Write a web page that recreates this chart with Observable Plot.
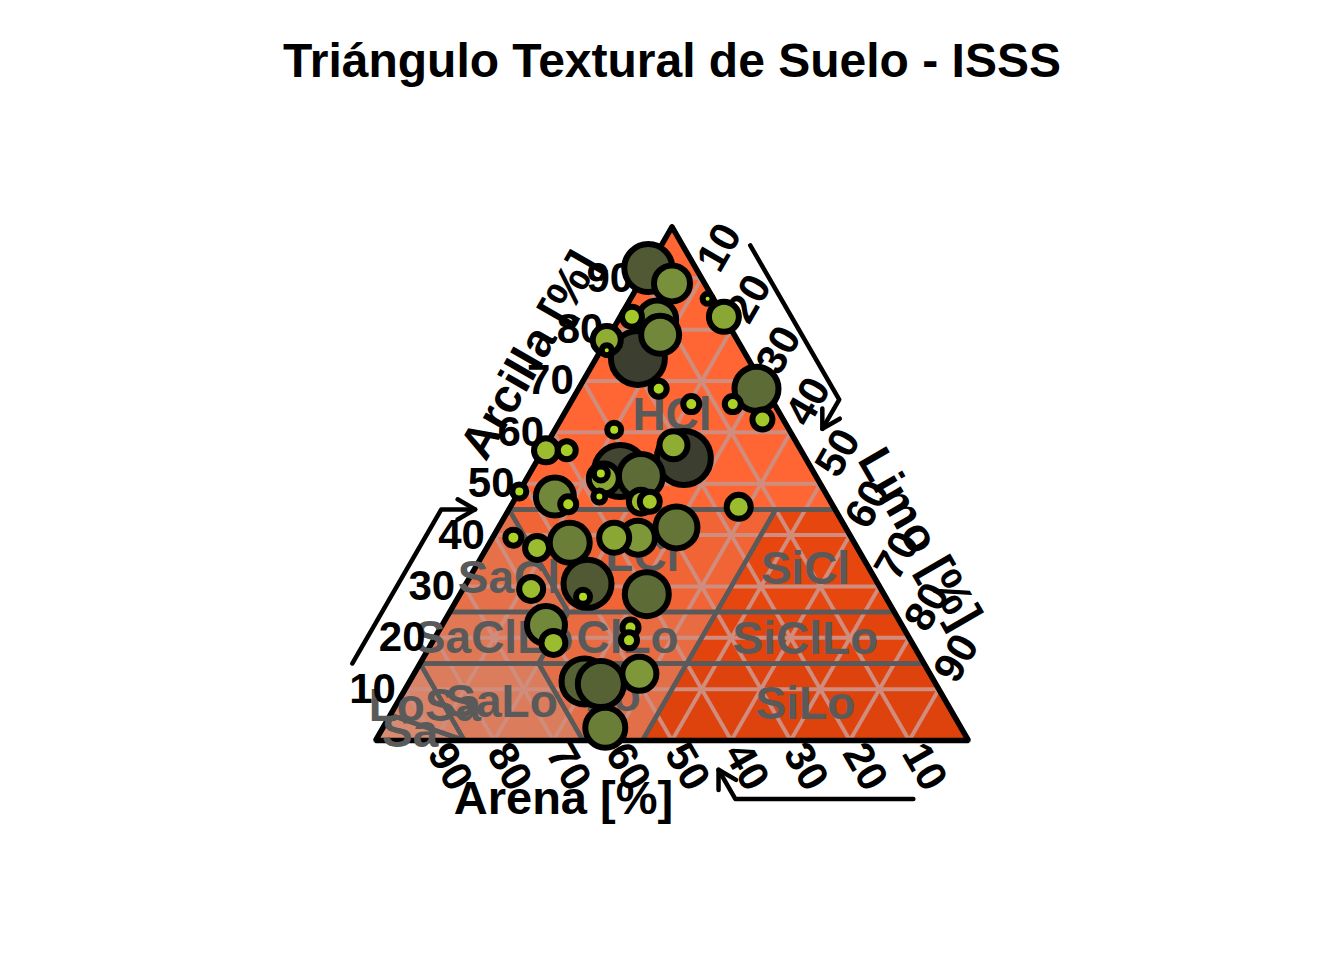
<!DOCTYPE html>
<html><head><meta charset="utf-8">
<script src="https://cdn.jsdelivr.net/npm/d3@7"></script>
<script src="https://cdn.jsdelivr.net/npm/@observablehq/plot@0.6"></script>
<style>
body{margin:0;background:#fff;font-family:"Liberation Sans",Arial,sans-serif;}
#title{height:73px;padding-top:37px;text-align:center;font-weight:bold;font-size:48px;line-height:1;color:#000;}
#chart{height:850px;}
</style></head><body>
<div id="title">Triángulo Textural de Suelo - ISSS</div>
<div id="chart"></div>
<script>
// ---- data: samples (percentages) and bubble variable ----
const arcilla = [92,89,86,82.5,82.5,82,79,78,76,74.5,68.5,65.5,65.5,68.5,62.5,55,57.5,60.5,56.5,56.5,48.5,47.5,46,52.5,51.5,51,52,47.5,46.5,46.5,45.5,39.5,37.5,38.5,39.5,39.5,41.5,29.5,30.5,28,28.5,22.5,19,22,19.5,13,11.5,11,2.5];
const limo    = [0,5.5,13,17.5,2,6.5,8.5,0,1,7,13.5,20.5,27.5,30,34,24.5,21.5,10,0.5,4,0,6.5,9.5,15,19,13,12,14,21.5,23,38.5,3.5,8.5,13.5,20.5,24.5,30,11.5,20.5,21,31.5,17.5,20.5,32,33,38,29.5,32.5,37.5];
const arena   = arcilla.map((a,i)=>+(100-a-limo[i]).toFixed(1));
const valor   = [5.25,3.75,0.5,3.0,1.75,4.0,4.0,2.75,0.5,6.0,1.25,1.25,1.25,4.75,1.75,6.0,2.75,1.0,2.25,1.5,1.0,4.0,1.25,5.75,4.75,3.0,1.0,0.75,2.25,1.75,2.25,1.25,2.25,4.25,3.0,3.5,4.5,2.25,5.25,1.0,4.75,4.0,2.25,1.25,1.25,3.5,5.0,5.0,4.25];

// ---- texture classes (ISSS): vertices as [arcilla, limo] ----
const clases = ["HCl","SiCl","LCl","SaCl","SiClLo","ClLo","SaClLo","SiLo","Lo","SaLo","LoSa","Sa"];
const poligonos = [
  [[100,0],[45,55],[45,0]],
  [[45,55],[25,75],[25,45],[45,45]],
  [[45,45],[25,45],[25,20],[45,0]],
  [[45,0],[25,20],[25,0]],
  [[25,75],[15,85],[15,45],[25,45]],
  [[25,45],[15,45],[15,20],[25,20]],
  [[25,20],[15,20],[15,0],[25,0]],
  [[15,85],[0,100],[0,45],[15,45]],
  [[15,45],[0,45],[0,35],[15,20]],
  [[15,20],[0,35],[0,15],[15,0]],
  [[15,0],[0,15],[5,0]],
  [[5,0],[0,15],[0,0]]
];
const marcas = [10,20,30,40,50,60,70,80,90];
const ejes = ["arcilla","limo","arena"];
const titulosEje = ["Arcilla [%]","Limo [%]","Arena [%]"];

// ---- styles ----
const coloresClase = ["#FF6633","#E8460F","#F06435","#E67149","#E3440E","#E86B41","#E07855","#DE420D","#E36F49","#DB7C5C","#D98468","#D98B71"];
const font = "Liberation Sans, Arial, sans-serif";
const S3 = Math.sqrt(3)/2;
const toX = (a,l) => l + a/2;
const toY = a => a*S3;
function ptEje(eje, v, d){
  if(eje==="arcilla") return [v/2 - d, v*S3];
  if(eje==="limo") return [50 + v/2 + d*0.5, (100-v)*S3 + d*S3];
  return [100 - v + d*0.5, -d*S3];
}

const puntos = arcilla.map((a,i)=>({arcilla:a, limo:limo[i], arena:arena[i], valor:valor[i]}));
const centros = poligonos.map(p=>d3.polygonCentroid(p.map(q=>[toX(q[0],q[1]),toY(q[0])])));

const grid = [];
marcas.forEach(v=>{
  grid.push([[v,0],[v,100-v]]);
  grid.push([[0,v],[100-v,v]]);
  grid.push([[0,100-v],[100-v,0]]);
});

const marks = [];
clases.forEach((c,i)=>{
  const p = poligonos[i].concat([poligonos[i][0]]);
  marks.push(Plot.line(p,{x:q=>toX(q[0],q[1]),y:q=>toY(q[0]),fill:coloresClase[i],stroke:coloresClase[i],strokeWidth:1}));
});
marks.push(Plot.link(grid,{x1:g=>toX(g[0][0],g[0][1]),y1:g=>toY(g[0][0]),x2:g=>toX(g[1][0],g[1][1]),y2:g=>toY(g[1][0]),stroke:"#D08C7C",strokeWidth:4}));
clases.forEach((c,i)=>{
  const p = poligonos[i].concat([poligonos[i][0]]);
  marks.push(Plot.line(p,{x:q=>toX(q[0],q[1]),y:q=>toY(q[0]),stroke:"#5a5a5a",strokeWidth:4.5,strokeLinejoin:"round"}));
});
marks.push(Plot.line([[100,0],[0,100],[0,0],[100,0]],{x:q=>toX(q[0],q[1]),y:q=>toY(q[0]),stroke:"#000",strokeWidth:5.5,strokeLinejoin:"miter"}));
// class labels at polygon centroids
marks.push(Plot.text(clases,{
  x:(c,i)=>centros[i][0], y:(c,i)=>centros[i][1],
  text:d=>d, fontSize:46, fontWeight:"bold", fill:"#5a5a5a", fontFamily:font, textAnchor:"middle", lineAnchor:"middle"}));
// tick labels
marks.push(Plot.text(marcas,{x:v=>ptEje("arcilla",v,5.5)[0],y:v=>ptEje("arcilla",v,5.5)[1],text:d=>String(d),fontSize:42,fontWeight:"bold",fill:"#000",fontFamily:font,lineAnchor:"middle"}));
marks.push(Plot.text(marcas,{x:v=>ptEje("limo",v,6)[0],y:v=>ptEje("limo",v,6)[1],text:d=>String(d),rotate:-60,fontSize:42,fontWeight:"bold",fill:"#000",fontFamily:font,lineAnchor:"middle"}));
marks.push(Plot.text(marcas,{x:v=>ptEje("arena",v,5.1)[0],y:v=>ptEje("arena",v,5.1)[1],text:d=>String(d),rotate:60,fontSize:42,fontWeight:"bold",fill:"#000",fontFamily:font,lineAnchor:"middle"}));
// axis titles
const rot = [-60,60,0], posTit = [75,72,74];
ejes.forEach((e,i)=>{
  const p = ptEje(e,posTit[i],11.4);
  marks.push(Plot.text([titulosEje[i]],{x:()=>p[0],y:()=>p[1],text:d=>d,rotate:rot[i],fontSize:47,fontWeight:"bold",fill:"#000",fontFamily:font,lineAnchor:"middle"}));
});
// direction arrows
ejes.forEach(e=>{
  const a = ptEje(e,15,11.4), b = ptEje(e,45,11.4), t = ptEje(e,45,5.7);
  marks.push(Plot.line([a,b,t],{x:q=>q[0],y:q=>q[1],stroke:"#000",strokeWidth:4.5}));
  const ux = b[0]-t[0], uy = b[1]-t[1], n = Math.hypot(ux,uy), L = 3.4;
  const w = ang => { const c=Math.cos(ang), s=Math.sin(ang); return [t[0]+L*(c*ux-s*uy)/n, t[1]+L*(s*ux+c*uy)/n]; };
  marks.push(Plot.line([w(Math.PI/6),t,w(-Math.PI/6)],{x:q=>q[0],y:q=>q[1],stroke:"#000",strokeWidth:4.5}));
});
// samples
marks.push(Plot.dot(puntos,{x:d=>toX(d.arcilla,d.limo),y:d=>toY(d.arcilla),r:"valor",fill:"valor",stroke:"#000",strokeWidth:6}));

const chart = Plot.plot({
  width:1344, height:850,
  marginLeft:375, marginRight:376, marginTop:630-593*S3, marginBottom:220,
  x:{domain:[0,100],axis:null},
  y:{domain:[0,100*S3],axis:null},
  r:{type:"linear",domain:[0.5,6],range:[5,27]},
  color:{type:"linear",domain:[0.5,2.25,3.75,6],range:["#b8e41c","#9cbc30","#78903a","#3c3e30"],interpolate:"rgb"},
  style:{fontFamily:font,background:"#fff",overflow:"visible"},
  marks
});
document.getElementById("chart").appendChild(chart);
</script>
</body></html>
